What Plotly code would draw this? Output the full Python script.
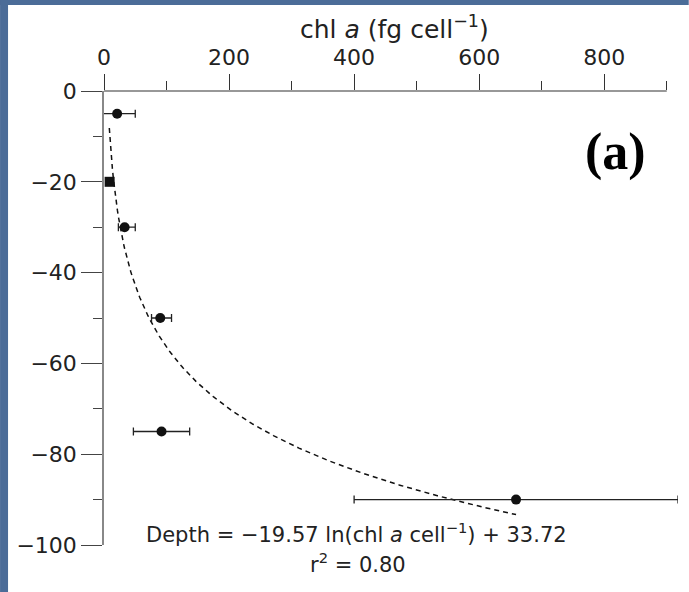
import numpy as np
import plotly.graph_objects as go

# ---- data ----
chl = [21, 9, 33, 90, 92, 659]            # chl a (fg cell^-1)
depth = [-5, -20, -30, -50, -75, -90]     # depth (m)
err_plus = [29, 0, 17, 18, 45, 259]
err_minus = [29, 0, 10, 14, 45, 259]
x_ticks = [0, 200, 400, 600, 800]
y_ticks = [-100, -80, -60, -40, -20, 0]
x_axis_end = 900      # drawn length of the top axis
x_view_end = 918      # visible range (room for the long error bar)

# fitted relation printed on the chart
fit_a = -19.57
fit_b = 33.72

symbols = ["circle", "square", "circle", "circle", "circle", "circle"]

fx = np.linspace(min(chl) - 0.5, max(chl), 400)
fy = fit_a * np.log(fx) + fit_b

FONT = "DejaVu Sans"
fig = go.Figure()

fig.add_trace(go.Scatter(
    x=fx, y=fy, mode="lines",
    line=dict(color="#111", width=1.5, dash="5px,4px"),
    hoverinfo="skip", showlegend=False,
))

fig.add_trace(go.Scatter(
    x=chl, y=depth, mode="markers",
    marker=dict(color="#111", size=10, symbol=symbols),
    error_x=dict(type="data", symmetric=False, array=err_plus,
                 arrayminus=err_minus, color="#222", thickness=1.3, width=4),
    cliponaxis=False, showlegend=False,
))

# plot area in pixels
W, H = 689, 592
L, T, B = 104, 91, 545
R = L + 563 * x_view_end / x_axis_end
def px(x):
    return (x - L) / (R - L)
def py(y):
    return (B - y) / (B - T)

shapes = [
    dict(type="rect", xref="paper", yref="paper", x0=px(0), x1=px(8), y0=py(H), y1=py(0),
         fillcolor="#4b6c98", line=dict(width=0), layer="below"),
    dict(type="rect", xref="paper", yref="paper", x0=px(0), x1=px(W), y0=py(5), y1=py(0),
         fillcolor="#4b6c98", line=dict(width=0), layer="below"),
    dict(type="line", xref="x", yref="paper", x0=0, x1=x_axis_end, y0=1, y1=1,
         line=dict(color="#333", width=1.2), layer="above"),
]

annotations = [
    dict(text="chl <i>a</i> (fg cell<sup>−1</sup>)", x=px(395), y=py(27), xref="paper", yref="paper",
         showarrow=False, font=dict(family=FONT, size=25, color="#222"), xanchor="center", yanchor="middle"),
    dict(text="<b>(a)</b>", x=px(616), y=py(152), xref="paper", yref="paper",
         showarrow=False, font=dict(family="Liberation Serif", size=52, color="#000"),
         xanchor="center", yanchor="middle"),
    dict(text="Depth = −19.57 ln(chl <i>a</i> cell<sup>−1</sup>) + 33.72", x=px(357), y=py(533),
         xref="paper", yref="paper", showarrow=False,
         font=dict(family=FONT, size=21, color="#222"), xanchor="center", yanchor="middle"),
    dict(text="r<sup>2</sup> = 0.80", x=px(358), y=py(563),
         xref="paper", yref="paper", showarrow=False,
         font=dict(family=FONT, size=21, color="#222"), xanchor="center", yanchor="middle"),
]

fig.update_layout(
    width=W, height=H,
    margin=dict(l=L, r=W - R, t=T, b=H - B),
    paper_bgcolor="white", plot_bgcolor="rgba(0,0,0,0)",
    shapes=shapes, annotations=annotations,
    xaxis=dict(side="top", range=[0, x_view_end], tickvals=x_ticks, ticks="outside", ticklen=16,
               tickwidth=1, tickcolor="#333", showline=False,
               showgrid=False, zeroline=False,
               minor=dict(tickvals=[100, 300, 500, 700, 900], ticks="outside", ticklen=9,
                          tickcolor="#333", tickwidth=1),
               tickfont=dict(family=FONT, size=22, color="#222")),
    yaxis=dict(range=[-100, 0], tickvals=y_ticks, ticks="outside", ticklen=21,
               tickwidth=1, tickcolor="#444", showline=True, linecolor="#888", linewidth=1.5,
               showgrid=False, zeroline=False,
               minor=dict(dtick=10, tick0=0, ticks="outside", ticklen=9, tickcolor="#444", tickwidth=1),
               tickfont=dict(family=FONT, size=22, color="#222")),
)

fig.write_html("out.html", config={"displayModeBar": False},
               post_script="document.body.style.margin='0';")
